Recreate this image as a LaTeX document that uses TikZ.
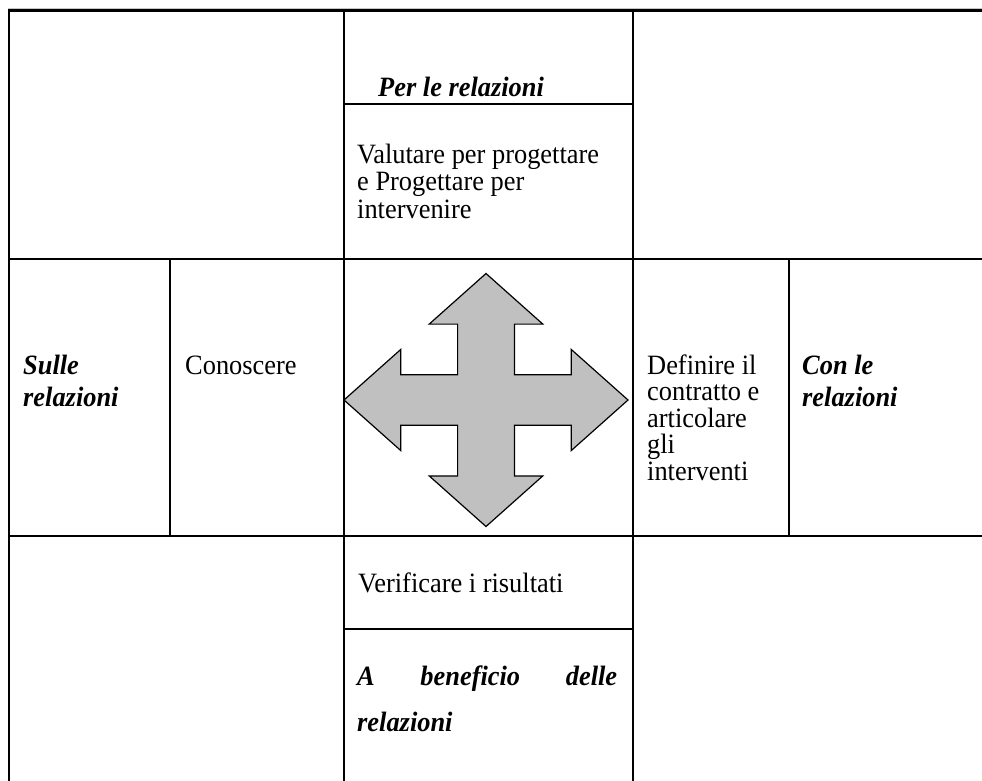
\documentclass[tikz,border=0pt]{standalone}
\usepackage{graphicx}
\usepackage{fontspec}
\setmainfont{Liberation Serif}
\definecolor{arrowgray}{HTML}{C0C0C0}
\newcommand{\vst}[1]{\scalebox{1}[1.06]{#1}}
\begin{document}
\begin{tikzpicture}[x=1pt,y=-1pt,
  gridline/.style={line width=2pt, black},
  topline/.style={line width=2.5pt, black},
  txt/.style={anchor=base west, inner sep=0pt, font=\fontsize{26.4}{30}\selectfont},
  bi/.style={anchor=base west, inner sep=0pt, font=\fontsize{26.4}{30}\selectfont\bfseries\itshape}]
\useasboundingbox (0,0) rectangle (982,781);
\fill[white] (0,0) rectangle (982,781);
% table grid
\draw[gray!45, line width=0.8pt] (8,8.2) -- (982,8.2);
\draw[topline] (8,10.5) -- (982,10.5);
\draw[gridline] (9,9.5) -- (9,781);
\draw[gridline] (344,9.5) -- (344,781);
\draw[gridline] (632.5,9.5) -- (632.5,781);
\draw[gridline] (344,104) -- (632.5,104);
\draw[gridline] (8,258.5) -- (982,258.5);
\draw[gridline] (170,258.5) -- (170,535.5);
\draw[gridline] (789,258.5) -- (789,535.5);
\draw[gridline] (8,535.5) -- (982,535.5);
\draw[gridline] (344,628.5) -- (632.5,628.5);
% four-way arrow
\begin{scope}[shift={(486,400)},xscale=142,yscale=126.5]
\draw[fill=arrowgray, line width=1.2pt, line join=miter]
 (0,-1) -- (0.4,-0.6) -- (0.2,-0.6) -- (0.2,-0.2) -- (0.6,-0.2) -- (0.6,-0.4)
 -- (1,0) -- (0.6,0.4) -- (0.6,0.2) -- (0.2,0.2) -- (0.2,0.6) -- (0.4,0.6)
 -- (0,1) -- (-0.4,0.6) -- (-0.2,0.6) -- (-0.2,0.2) -- (-0.6,0.2) -- (-0.6,0.4)
 -- (-1,0) -- (-0.6,-0.4) -- (-0.6,-0.2) -- (-0.2,-0.2) -- (-0.2,-0.6) -- (-0.4,-0.6) -- cycle;
\end{scope}
% texts
\node[bi] (per) at (378,97) {\vst{Per le relazioni}};
\node[txt] (val) at (357,163) {\vst{\parbox[t]{270pt}{\fontsize{26.4}{26.4}\selectfont Valutare per progettare\\e Progettare per\\intervenire}}};
\node[bi] (sulle) at (23,374) {\vst{\parbox[t]{140pt}{\fontsize{26.4}{30.2}\selectfont Sulle\\relazioni}}};
\node[txt] (conosc) at (185,374) {\vst{Conoscere}};
\node[txt] (defin) at (647,374) {\vst{\parbox[t]{140pt}{\fontsize{26.4}{25}\selectfont Definire il\\contratto e\\articolare\\gli\\interventi}}};
\node[bi] (conle) at (802,374) {\vst{\parbox[t]{170pt}{\fontsize{26.4}{30.2}\selectfont Con le\\relazioni}}};
\node[txt] (verif) at (358,592) {\vst{Verificare i risultati}};
\node[bi] (abenef) at (357,685) {\vst{\makebox[260pt][l]{A\hfill beneficio\hfill delle}}};
\node[bi] (relaz) at (357,731) {\vst{relazioni}};
\end{tikzpicture}
\end{document}
